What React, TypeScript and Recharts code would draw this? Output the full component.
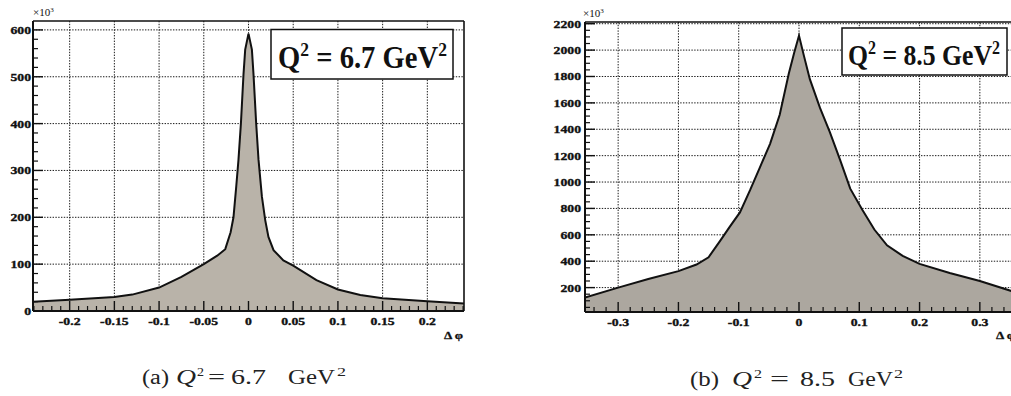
import React from 'react';
import { AreaChart, Area, XAxis, YAxis, CartesianGrid } from 'recharts';

// ---------- data (counts in units of 10^3) ----------
const dphiA = [-0.241, -0.2, -0.15, -0.13, -0.1, -0.075, -0.05, -0.035, -0.026, -0.02, -0.0168, -0.0137, -0.0112, -0.0085, -0.0056, -0.0037, 0, 0.0038, 0.0056, 0.0086, 0.0112, 0.015, 0.0187, 0.0223, 0.028, 0.039, 0.05, 0.076, 0.1, 0.125, 0.15, 0.2, 0.241];
const countsA = [20, 24, 30, 35, 50, 73, 100, 118, 132, 168, 200, 266, 323, 400, 505, 558, 592, 558, 505, 400, 323, 244, 194, 158, 130, 108, 97, 66, 46, 34, 27, 21, 16];

const dphiB = [-0.355, -0.3, -0.25, -0.2, -0.17, -0.15, -0.13, -0.115, -0.098, -0.081, -0.065, -0.048, -0.032, -0.017, -0.008, 0, 0.008, 0.018, 0.035, 0.051, 0.068, 0.085, 0.105, 0.125, 0.146, 0.172, 0.2, 0.25, 0.3, 0.355];
const countsB = [125, 200, 265, 325, 375, 430, 560, 660, 770, 940, 1110, 1290, 1510, 1820, 1980, 2110, 1960, 1780, 1560, 1380, 1170, 950, 790, 640, 520, 440, 380, 310, 250, 170];

// ---------- ticks ----------
const xMajorA = [-0.2, -0.15, -0.1, -0.05, 0, 0.05, 0.1, 0.15, 0.2];
const xLabelsA = ['-0.2', '-0.15', '-0.1', '-0.05', '0', '0.05', '0.1', '0.15', '0.2'];
const yMajorA = [0, 100, 200, 300, 400, 500, 600];
const yLabelsA = ['0', '100', '200', '300', '400', '500', '600'];

const xMajorB = [-0.3, -0.2, -0.1, 0, 0.1, 0.2, 0.3];
const xLabelsB = ['-0.3', '-0.2', '-0.1', '0', '0.1', '0.2', '0.3'];
const yMajorB = [200, 400, 600, 800, 1000, 1200, 1400, 1600, 1800, 2000, 2200];
const yLabelsB = ['200', '400', '600', '800', '1000', '1200', '1400', '1600', '1800', '2000', '2200'];

const range = (from: number, to: number, step: number) => {
  const out: number[] = [];
  const n = Math.round((to - from) / step);
  for (let i = 0; i <= n; i++) out.push(+(from + i * step).toFixed(6));
  return out;
};
const xMinorA = range(-0.24, 0.24, 0.01);
const yMinorA = range(0, 600, 20);
const xMinorB = range(-0.34, 0.34, 0.02);
const yMinorB = range(50, 2200, 50);

const dataA = dphiA.map((x, i) => ({ x, y: countsA[i] }));
const dataB = dphiB.map((x, i) => ({ x, y: countsB[i] }));

const FONT = "'Liberation Serif', 'Times New Roman', serif";
const INK = '#111';

const majorIndex = (majors: number[], v: number) => majors.findIndex((m) => Math.abs(m - v) < 1e-9);

const makeXTick = (majors: number[], labels: string[]) => (props: any) => {
  const { x, y, payload } = props;
  const i = majorIndex(majors, payload.value);
  if (i < 0) return <line x1={x} x2={x} y1={y} y2={y - 5} stroke={INK} strokeWidth={1.2} />;
  return (
    <g>
      <line x1={x} x2={x} y1={y} y2={y - 10} stroke={INK} strokeWidth={1.4} />
      <text transform={`translate(${x},${y + 13.5}) scale(1.25,1)`} textAnchor="middle" fontFamily={FONT} fontWeight={700} fontSize={11} fill={INK} stroke={INK} strokeWidth={0.35}>
        {labels[i]}
      </text>
    </g>
  );
};
const makeYTick = (majors: number[], labels: string[], gap: number) => (props: any) => {
  const { x, y, payload } = props;
  const i = majorIndex(majors, payload.value);
  if (i < 0) return <line x1={x} x2={x + 5} y1={y} y2={y} stroke={INK} strokeWidth={1.2} />;
  return (
    <g>
      <line x1={x} x2={x + 10} y1={y} y2={y} stroke={INK} strokeWidth={1.4} />
      <text transform={`translate(${x - gap},${y + 4}) scale(1.25,1)`} textAnchor="end" fontFamily={FONT} fontWeight={700} fontSize={11} fill={INK} stroke={INK} strokeWidth={0.35}>
        {labels[i]}
      </text>
    </g>
  );
};

const merge = (a: number[], b: number[]) => {
  const all = [...a];
  b.forEach((v) => {
    if (majorIndex(a, v) < 0) all.push(v);
  });
  return all.sort((p, q) => p - q);
};

type PanelProps = {
  data: { x: number; y: number }[];
  xDomain: [number, number];
  yDomain: [number, number];
  xMajor: number[];
  xLabels: string[];
  yMajor: number[];
  yLabels: string[];
  xMinor: number[];
  yMinor: number[];
  width: number;
  height: number;
  axisW: number;
  axisH: number;
  margin: { top: number; left: number; right: number; bottom: number };
  fill: string;
  labelGap: number;
};

function Panel(p: PanelProps) {
  const gridAny: any = { verticalValues: p.xMajor, horizontalValues: p.yMajor };
  return (
    <AreaChart width={p.width} height={p.height} data={p.data} margin={p.margin}>
      <CartesianGrid stroke="#1a1a1a" strokeDasharray="1.4 1.4" strokeWidth={1} {...gridAny} />
      <XAxis
        dataKey="x"
        type="number"
        domain={p.xDomain}
        allowDataOverflow
        ticks={merge(p.xMajor, p.xMinor)}
        interval={0}
        height={p.axisH}
        tickSize={0}
        tickMargin={0}
        tickLine={false}
        axisLine={{ stroke: INK, strokeWidth: 2 }}
        tick={makeXTick(p.xMajor, p.xLabels)}
      />
      <YAxis
        type="number"
        domain={p.yDomain}
        allowDataOverflow
        ticks={merge(p.yMajor, p.yMinor)}
        interval={0}
        width={p.axisW}
        tickSize={0}
        tickMargin={0}
        tickLine={false}
        axisLine={{ stroke: INK, strokeWidth: 2 }}
        tick={makeYTick(p.yMajor, p.yLabels, p.labelGap)}
      />
      <Area
        type="linear"
        dataKey="y"
        stroke={INK}
        strokeWidth={2}
        fill={p.fill}
        fillOpacity={1}
        isAnimationActive={false}
        dot={false}
        activeDot={false}
      />
    </AreaChart>
  );
}

type Piece = { t: string; x: w; w: number; sup?: boolean; it?: boolean };
type w = number;

function Caption({ pieces, base }: { pieces: Piece[]; base: number }) {
  return (
    <g fontFamily={FONT} fill="#222">
      {pieces.map((p, i) => (
        <text
          key={i}
          x={p.x}
          y={p.sup ? base - 8 : base}
          fontSize={p.sup ? 13 : 20}
          fontStyle={p.it ? 'italic' : 'normal'}
          textLength={p.w}
          lengthAdjust="spacingAndGlyphs"
        >
          {p.t}
        </text>
      ))}
    </g>
  );
}

const capA: Piece[] = [
  { t: '(a)', x: 142, w: 27 },
  { t: 'Q', x: 176, w: 20, it: true },
  { t: '2', x: 197, w: 7, sup: true },
  { t: '=', x: 208, w: 17 },
  { t: '6.7', x: 231, w: 35 },
  { t: 'GeV', x: 288, w: 47 },
  { t: '2', x: 337, w: 9, sup: true },
];
const capB: Piece[] = [
  { t: '(b)', x: 690, w: 29 },
  { t: 'Q', x: 732, w: 20, it: true },
  { t: '2', x: 754, w: 8, sup: true },
  { t: '=', x: 770, w: 19 },
  { t: '8.5', x: 800, w: 35 },
  { t: 'GeV', x: 848, w: 45 },
  { t: '2', x: 894, w: 9, sup: true },
];

function Overlay() {
  const bold = { fontFamily: FONT, fontWeight: 700 } as const;
  return (
    <svg width={1011} height={396} style={{ position: 'absolute', left: 0, top: 0, pointerEvents: 'none' }}>
      {/* frames (top / right edges) */}
      <line x1={33} x2={464} y1={21} y2={21} stroke={INK} strokeWidth={1.6} />
      <line x1={464} x2={464} y1={21} y2={311} stroke={INK} strokeWidth={1.6} />
      <line x1={585} x2={1011} y1={22} y2={22} stroke={INK} strokeWidth={1.6} />
      {/* x10^3 labels */}
      <text x={33} y={16} fontFamily={FONT} fontSize={11} fill={INK}>
        ×10<tspan dy={-4} fontSize={7}>3</tspan>
      </text>
      <text x={583} y={17} fontFamily={FONT} fontSize={11} fill={INK}>
        ×10<tspan dy={-4} fontSize={7}>3</tspan>
      </text>
      {/* axis titles */}
      <text transform="translate(463,339) scale(1.2,1)" textAnchor="end" {...bold} fontSize={11} fill={INK} stroke={INK} strokeWidth={0.3}>Δ φ</text>
      <text transform="translate(996,339) scale(1.2,1)" textAnchor="start" {...bold} fontSize={11} fill={INK} stroke={INK} strokeWidth={0.3}>Δ φ</text>
      {/* legend boxes */}
      <rect x={271} y={29.5} width={182} height={49.5} fill="#fff" stroke={INK} strokeWidth={1.5} />
      <text x={278} y={68} {...bold} fontSize={31} fill={INK} textLength={169} lengthAdjust="spacingAndGlyphs">
        Q<tspan dy={-12} fontSize={19}>2</tspan><tspan dy={12}> = 6.7 GeV</tspan><tspan dy={-12} fontSize={19}>2</tspan>
      </text>
      <rect x={842} y={28} width={165} height={47} fill="#fff" stroke={INK} strokeWidth={1.5} />
      <text x={848} y={65} {...bold} fontSize={29} fill={INK} textLength={152} lengthAdjust="spacingAndGlyphs">
        Q<tspan dy={-11} fontSize={18}>2</tspan><tspan dy={11}> = 8.5 GeV</tspan><tspan dy={-11} fontSize={18}>2</tspan>
      </text>
      {/* captions */}
      <Caption pieces={capA} base={384} />
      <Caption pieces={capB} base={386} />
    </svg>
  );
}

export default function App() {
  return (
    <div style={{ position: 'absolute', left: 0, top: 0, width: 1011, height: 396, overflow: 'hidden', background: '#fff' }}>
      <div style={{ position: 'absolute', left: 0, top: 0 }}>
        <Panel
          data={dataA}
          xDomain={[-0.241, 0.241]}
          yDomain={[0, 619]}
          xMajor={xMajorA}
          xLabels={xLabelsA}
          yMajor={yMajorA}
          yLabels={yLabelsA}
          xMinor={xMinorA}
          yMinor={yMinorA}
          width={480}
          height={345}
          axisW={33}
          axisH={34}
          margin={{ top: 21, left: 0, right: 16, bottom: 0 }}
          fill="#b9b3a9"
          labelGap={2}
        />
      </div>
      <div style={{ position: 'absolute', left: 520, top: 0 }}>
        <Panel
          data={dataB}
          xDomain={[-0.355, 0.355]}
          yDomain={[15, 2213]}
          xMajor={xMajorB}
          xLabels={xLabelsB}
          yMajor={yMajorB}
          yLabels={yLabelsB}
          xMinor={xMinorB}
          yMinor={yMinorB}
          width={520}
          height={345}
          axisW={65}
          axisH={33}
          margin={{ top: 22, left: 0, right: 27, bottom: 0 }}
          fill="#aca79f"
          labelGap={4}
        />
      </div>
      <Overlay />
    </div>
  );
}
